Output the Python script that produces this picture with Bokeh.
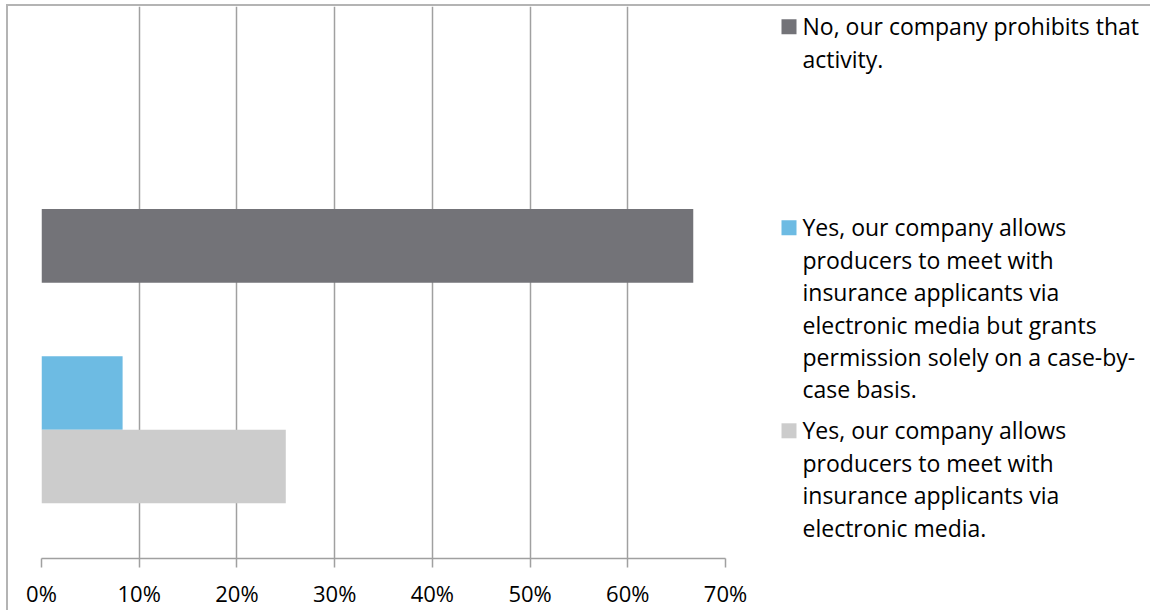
from bokeh.plotting import figure
from bokeh.models import Range1d, FixedTicker, NumeralTickFormatter, ColumnDataSource, Spacer
from bokeh.layouts import row, column
from bokeh.core.properties import value
from bokeh.embed import file_html
from bokeh.resources import INLINE

# ---- data ----
series = [
    "No, our company prohibits that activity.",
    "Yes, our company allows producers to meet with insurance applicants via electronic media but grants permission solely on a case-by-case basis.",
    "Yes, our company allows producers to meet with insurance applicants via electronic media.",
]
shares = [0.667, 0.083, 0.25]
colors = ["#737378", "#6DBBE3", "#CCCCCC"]
legend_lines = [
    ["No, our company prohibits that", "activity."],
    ["Yes, our company allows", "producers to meet with", "insurance applicants via",
     "electronic media but grants", "permission solely on a case-by-", "case basis."],
    ["Yes, our company allows", "producers to meet with", "insurance applicants via",
     "electronic media."],
]
x_ticks = [0, 0.1, 0.2, 0.3, 0.4, 0.5, 0.6, 0.7]

FONT = "Open Sans"
GRID = "#A0A0A0"
BORDER = "#B4B4B4"

# slot layout (bottom-up): light gray, blue, empty, dark
slot_order = [series[2], series[1], None, series[0]]
ys = [slot_order.index(s) for s in series]

src = ColumnDataSource(dict(y=ys, right=shares, color=colors))

p = figure(frame_width=684, frame_height=552, min_border_left=33, min_border_right=25,
           min_border_top=0, min_border_bottom=52,
           x_range=Range1d(0, 0.7), y_range=Range1d(-1.25, 6.254),
           output_backend="svg", toolbar_location=None)
p.hbar(y="y", left=0, right="right", height=1.0, color="color", source=src, line_color=None)

p.outline_line_color = None
p.yaxis.visible = False
p.ygrid.visible = False
p.xaxis.ticker = FixedTicker(ticks=x_ticks)
p.xaxis.formatter = NumeralTickFormatter(format="0%")
p.xaxis.axis_line_color = GRID
p.xaxis.axis_line_width = 1.5
p.xaxis.major_tick_line_color = GRID
p.xaxis.major_tick_line_width = 1.5
p.xaxis.major_tick_out = 9
p.xaxis.major_tick_in = 0
p.xaxis.minor_tick_line_color = None
p.xaxis.major_label_text_font = FONT
p.xaxis.major_label_text_font_size = "22px"
p.xaxis.major_label_text_color = "#000000"
p.xaxis.major_label_standoff = 10
p.xgrid.ticker = FixedTicker(ticks=x_ticks)
p.xgrid.grid_line_color = GRID
p.xgrid.grid_line_width = 1.5

# ---- legend panel ----
LW, LH = 400, 604
lg = figure(frame_width=LW, frame_height=LH, min_border=0,
            x_range=Range1d(0, LW), y_range=Range1d(LH, 0),
            output_backend="svg", toolbar_location=None)
lg.axis.visible = False
lg.grid.visible = False
lg.outline_line_color = None

first_baselines = [27.7, 228.8, 431.8]
line_h = 32.4
text_shift = -8.0
tx, ty, tt = [], [], []
sq_y = []
for lines, b0 in zip(legend_lines, first_baselines):
    sq_y.append(b0 - 7.5)
    for i, t in enumerate(lines):
        tx.append(52)
        ty.append(b0 + i * line_h + text_shift)
        tt.append(t)
lg.rect(x=[38.5] * 3, y=sq_y, width=15, height=15, color=colors, line_color=None)
lg.text(x=tx, y=ty, text=tt, text_font=value(FONT), text_font_size="23px",
        text_color="#000000", text_baseline="alphabetic", text_align="left")

layout = column(
    Spacer(width=1150, height=4),
    row(
        Spacer(width=6, height=606),
        Spacer(width=2, height=606, styles={"background-color": BORDER}),
        column(
            Spacer(width=1142, height=2, styles={"background-color": BORDER}),
            row(p, lg),
        ),
    ),
)

open("out.html", "w").write(file_html(layout, INLINE))
